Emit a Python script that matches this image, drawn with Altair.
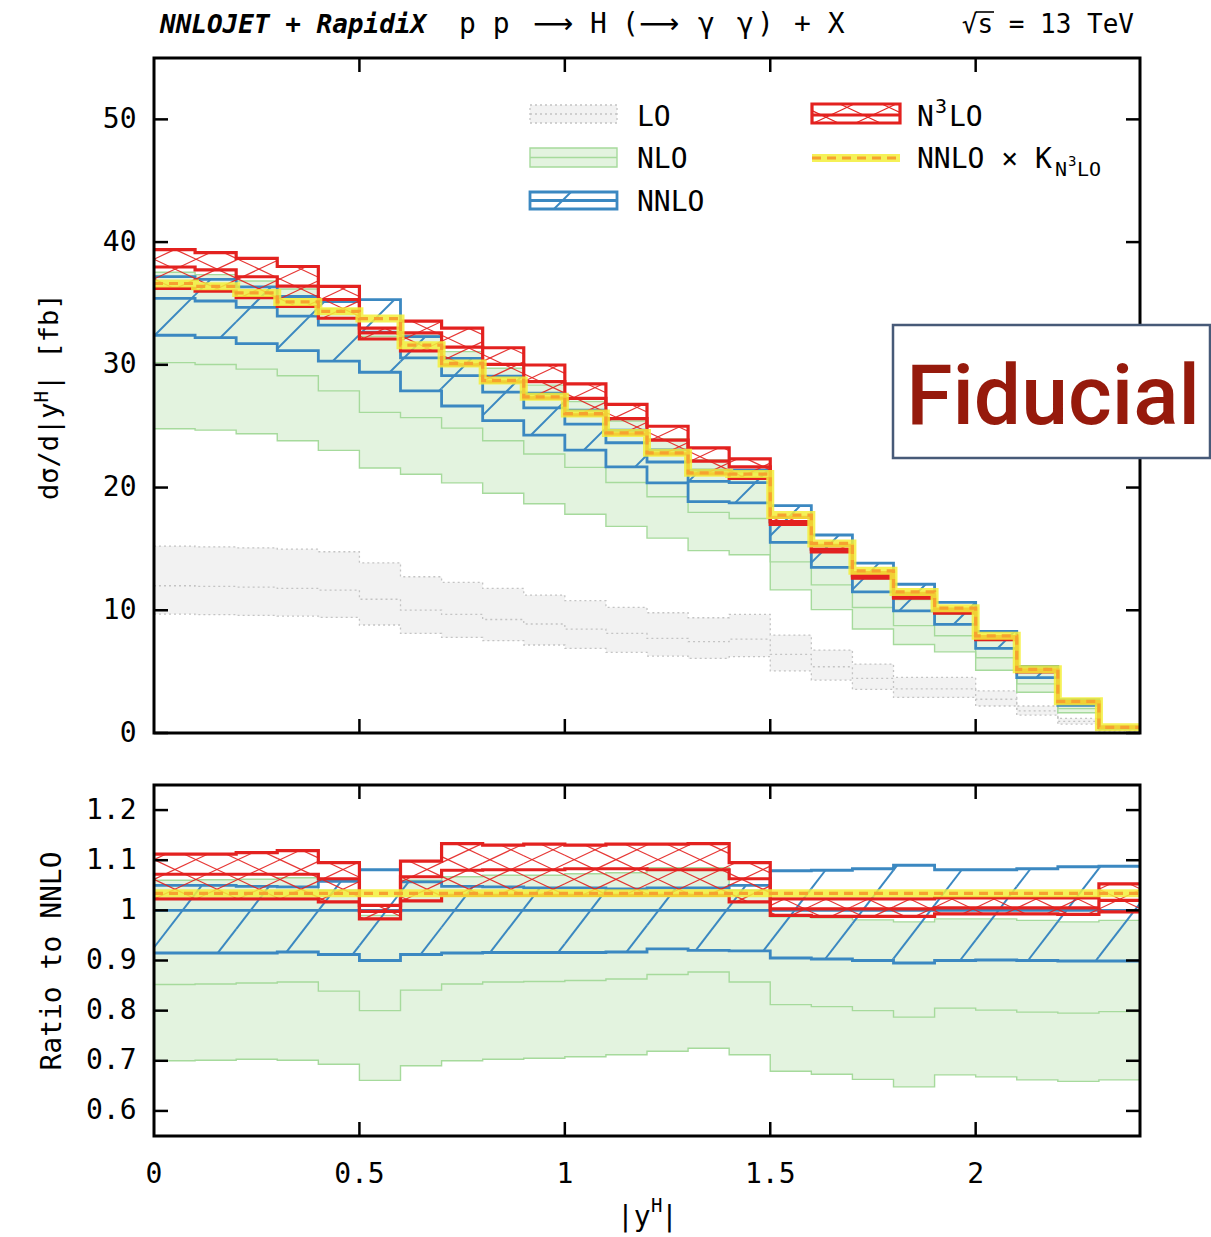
import altair as alt
import pandas as pd
import numpy as np

# ---------------- data ----------------
EDGES = [0.0, 0.1, 0.2, 0.3, 0.4, 0.5, 0.6, 0.7, 0.8, 0.9, 1.0, 1.1, 1.2,
         1.3, 1.4, 1.5, 1.6, 1.7, 1.8, 1.9, 2.0, 2.1, 2.2, 2.3, 2.4]

NNLO_C = [35.42, 35.20, 34.68, 33.97, 33.23, 32.66, 30.56, 29.12, 27.78, 26.49,
          25.17, 23.65, 22.08, 20.50, 20.40, 17.17, 14.94, 12.78, 11.12, 9.84,
          7.66, 5.02, 2.50, 0.45]
NNLO_LO_R = [0.915, 0.915, 0.915, 0.917, 0.912, 0.900, 0.912, 0.915, 0.916, 0.916,
             0.916, 0.917, 0.923, 0.920, 0.919, 0.905, 0.903, 0.900, 0.895, 0.900,
             0.901, 0.900, 0.899, 0.899]
NNLO_HI_R = [1.050, 1.050, 1.048, 1.047, 1.058, 1.081, 1.057, 1.048, 1.047, 1.045,
             1.045, 1.043, 1.045, 1.045, 1.050, 1.079, 1.080, 1.083, 1.090, 1.081,
             1.081, 1.083, 1.087, 1.088]
NLO_LO_R = [0.700, 0.701, 0.703, 0.701, 0.693, 0.661, 0.690, 0.700, 0.703, 0.705,
            0.708, 0.712, 0.719, 0.725, 0.712, 0.679, 0.673, 0.663, 0.648, 0.672,
            0.668, 0.662, 0.659, 0.662]
NLO_C_R = [0.852, 0.853, 0.855, 0.857, 0.839, 0.800, 0.841, 0.853, 0.857, 0.858,
           0.860, 0.863, 0.872, 0.877, 0.857, 0.812, 0.808, 0.800, 0.787, 0.805,
           0.801, 0.797, 0.795, 0.798]
NLO_HI_R = [1.060, 1.061, 1.062, 1.065, 1.040, 0.990, 1.060, 1.067, 1.070, 1.070,
            1.073, 1.075, 1.085, 1.085, 1.040, 0.987, 0.985, 0.981, 0.977, 0.983,
            0.983, 0.980, 0.977, 0.980]
N3LO_LO_R = [1.023, 1.023, 1.023, 1.023, 1.017, 0.983, 1.019, 1.030, 1.030, 1.030,
             1.030, 1.030, 1.030, 1.030, 1.017, 0.990, 0.988, 0.988, 0.988, 0.993,
             0.993, 0.993, 0.992, 0.997]
N3LO_C_R = [1.072, 1.072, 1.072, 1.072, 1.063, 0.998, 1.067, 1.080, 1.081, 1.081,
            1.083, 1.083, 1.081, 1.081, 1.063, 1.003, 1.003, 1.003, 1.003, 1.005,
            1.005, 1.005, 1.005, 1.020]
N3LO_HI_R = [1.112, 1.112, 1.115, 1.119, 1.095, 1.010, 1.098, 1.133, 1.130, 1.132,
             1.130, 1.132, 1.132, 1.133, 1.095, 1.023, 1.023, 1.023, 1.023, 1.025,
             1.025, 1.025, 1.025, 1.053]
K_N3LO = 1.034

LO_HI = [15.23, 15.17, 15.09, 14.98, 14.77, 13.87, 12.73, 12.27, 11.78, 11.24,
         10.78, 10.23, 9.80, 9.39, 9.66, 7.98, 6.76, 5.62, 4.53, 4.53,
         3.44, 2.20, 1.19, 0.30]
LO_C = [12.00, 11.94, 11.89, 11.78, 11.64, 10.90, 10.02, 9.66, 9.25, 8.88,
        8.47, 8.11, 7.71, 7.44, 7.65, 6.40, 5.40, 4.45, 3.60, 3.60,
        2.75, 1.80, 0.95, 0.22]
LO_LO = [9.69, 9.64, 9.58, 9.53, 9.42, 8.80, 8.11, 7.79, 7.52, 7.17,
         6.89, 6.57, 6.27, 6.08, 6.22, 5.07, 4.31, 3.55, 2.90, 2.90,
         2.20, 1.46, 0.73, 0.15]

X_TICKS = [0, 0.5, 1, 1.5, 2]
X_LABELS = ["0", "0.5", "1", "1.5", "2"]
Y_TICKS_TOP = [0, 10, 20, 30, 40, 50]
Y_TICKS_RAT = [0.6, 0.7, 0.8, 0.9, 1.0, 1.1, 1.2]

# ---------------- layout ----------------
W = 986
HT = 675            # top panel height
R0, R1 = 727, 1078  # ratio panel top / bottom (px in the view)
HALL = 1078
FONT = "DejaVu Sans Mono"

XS = alt.Scale(domain=[0, 2.4], nice=False, zero=False)
YT = alt.Scale(domain=[0, 55], range=[HT, 0], nice=False, zero=False)
YR = alt.Scale(domain=[0.55, 1.25], range=[R1, R0], nice=False, zero=False)
TOP = dict(scale=YT, d0=0.0, d1=55.0, h=HT)
RAT = dict(scale=YR, d0=0.55, d1=1.25, h=R1 - R0)

DUMMY = pd.DataFrame({"a": [0]})

C_LO_F, C_LO_L = "#f2f2f2", "#c4c4c4"
C_NLO_F, C_NLO_L = "#e3f3df", "#a6da9c"
C_NNLO = "#3b88c1"
C_N3LO = "#e3211f"
C_YEL, C_ORA = "#f3ee3a", "#f6a22f"


def mul(a, b):
    return [x * y for x, y in zip(a, b)]


def step_df(vals):
    return pd.DataFrame({"x": EDGES, "v": list(vals) + [vals[-1]]})


def line_layer(vals, panel, color, width, dash=None, opacity=1.0):
    kw = dict(interpolate="step-after", color=color, strokeWidth=width,
              opacity=opacity, clip=False, strokeJoin="miter")
    if dash is not None:
        kw["strokeDash"] = dash
    return alt.Chart(step_df(vals)).mark_line(**kw).encode(
        x=alt.X("x:Q", scale=XS, axis=None),
        y=alt.Y("v:Q", scale=panel["scale"], axis=None))


def area_layer(lo, hi, panel, color):
    df = pd.DataFrame({"x": EDGES, "lo": list(lo) + [lo[-1]],
                       "hi": list(hi) + [hi[-1]]})
    return alt.Chart(df).mark_area(interpolate="step-after", color=color,
                                   opacity=1).encode(
        x=alt.X("x:Q", scale=XS, axis=None),
        y=alt.Y("lo:Q", scale=panel["scale"], axis=None),
        y2="hi:Q")


def clip_lines(X0, X1, Y0, Y1, slope, period, phase):
    """segments of the line family Y = slope*(X - phase - k*period) inside a box"""
    out = []
    span = max(abs(Y0), abs(Y1)) / abs(slope)
    kmin = int(np.floor((X0 - phase - span) / period)) - 2
    kmax = int(np.ceil((X1 - phase + span) / period)) + 2
    for k in range(kmin, kmax + 1):
        b = phase + k * period
        xa, xb = b + Y0 / slope, b + Y1 / slope
        lo_x = max(X0, min(xa, xb))
        hi_x = min(X1, max(xa, xb))
        if hi_x - lo_x > 0.3:
            out.append((lo_x, slope * (lo_x - b), hi_x, slope * (hi_x - b)))
    return out


def hatch_df(lo, hi, panel, slope, period, phase):
    kx = W / 2.4
    ky = panel["h"] / (panel["d1"] - panel["d0"])
    d0 = panel["d0"]
    rows = []
    for i in range(len(lo)):
        X0, X1 = EDGES[i] * kx, EDGES[i + 1] * kx
        Y0, Y1 = (lo[i] - d0) * ky, (hi[i] - d0) * ky
        if Y1 <= Y0:
            continue
        for (xa, ya, xb, yb) in clip_lines(X0, X1, Y0, Y1, slope, period, phase):
            rows.append(dict(x=xa / kx, x2=xb / kx, y=d0 + ya / ky, y2=d0 + yb / ky))
    return pd.DataFrame(rows)


def hatch_layer(df, panel, color, width, opacity=1.0):
    return alt.Chart(df).mark_rule(color=color, strokeWidth=width,
                                   opacity=opacity, strokeCap="butt").encode(
        x=alt.X("x:Q", scale=XS, axis=None), x2="x2:Q",
        y=alt.Y("y:Q", scale=panel["scale"], axis=None), y2="y2:Q")


def px_rect(x0, x1, y0, y1, **mk):
    return alt.Chart(DUMMY).mark_rect(**mk).encode(
        x=alt.value(x0), x2=alt.value(x1), y=alt.value(y0), y2=alt.value(y1))


def px_rule(x0, x1, y0, y1, **mk):
    return alt.Chart(DUMMY).mark_rule(**mk).encode(
        x=alt.value(x0), x2=alt.value(x1), y=alt.value(y0), y2=alt.value(y1))


def px_text(txt, x, y, **mk):
    base = dict(font=FONT, fontSize=28, color="black", align="left",
                baseline="alphabetic")
    base.update(mk)
    return alt.Chart(DUMMY).mark_text(text=txt, **base).encode(
        x=alt.value(x), y=alt.value(y))


def px_hatch(x0, x1, y0, y1, slope, period, phase, color, width):
    # box in y-down px; pattern computed with y-up coordinates
    segs = clip_lines(x0, x1, -y1, -y0, slope, period, phase)
    df = pd.DataFrame([dict(x=a, y=-b, x2=c, y2=-d) for (a, b, c, d) in segs])
    return alt.Chart(df).mark_rule(color=color, strokeWidth=width,
                                   strokeCap="butt").encode(
        x=alt.X("x:Q", scale=None), x2="x2:Q",
        y=alt.Y("y:Q", scale=None), y2="y2:Q")


layers = []

# ---------------- series per panel ----------------
for panel in (TOP, RAT):
    top = panel is TOP
    cen = NNLO_C if top else [1.0] * len(NNLO_C)
    if top:
        layers.append(area_layer(LO_LO, LO_HI, panel, C_LO_F))
        for v in (LO_LO, LO_C, LO_HI):
            layers.append(line_layer(v, panel, C_LO_L, 1.3, dash=[2, 3]))
    nlo_lo, nlo_c, nlo_hi = mul(cen, NLO_LO_R), mul(cen, NLO_C_R), mul(cen, NLO_HI_R)
    layers.append(area_layer(nlo_lo, nlo_hi, panel, C_NLO_F))
    for v in (nlo_lo, nlo_c, nlo_hi):
        layers.append(line_layer(v, panel, C_NLO_L, 1.4))

    nn_lo, nn_hi = mul(cen, NNLO_LO_R), mul(cen, NNLO_HI_R)
    if top:
        hb = hatch_df(nn_lo, nn_hi, panel, 1.0, 68.0, -397.0)
    else:
        hb = hatch_df(nn_lo, nn_hi, panel, 1.3, 68.0, -77.0)
    layers.append(hatch_layer(hb, panel, C_NNLO, 2.0))
    for v in (nn_lo, cen, nn_hi):
        layers.append(line_layer(v, panel, C_NNLO, 2.8))

    n3_lo, n3_c, n3_hi = mul(cen, N3LO_LO_R), mul(cen, N3LO_C_R), mul(cen, N3LO_HI_R)
    hr = pd.concat([hatch_df(n3_lo, n3_hi, panel, 0.47, 42.0, 0.0),
                    hatch_df(n3_lo, n3_hi, panel, -0.47, 42.0, 0.0)])
    layers.append(hatch_layer(hr, panel, C_N3LO, 1.2, 0.9))
    for v in (n3_lo, n3_c, n3_hi):
        layers.append(line_layer(v, panel, C_N3LO, 3.2))

    kline = [K_N3LO * c for c in cen]
    layers.append(line_layer(kline, panel, C_YEL, 8, opacity=0.85))
    layers.append(line_layer(kline, panel, C_ORA, 3.2, dash=[9, 6]))

# ---------------- frames, inward ticks and axis labels ----------------
layers.append(px_rect(0, W, 0, HT, fill="white", fillOpacity=0, stroke="black", strokeWidth=3))
layers.append(px_rect(0, W, R0, R1, fill="white", fillOpacity=0, stroke="black", strokeWidth=3))

xt = pd.DataFrame({"t": X_TICKS[1:]})
for (ya, yb) in ((HT, HT - 14), (0, 14), (R0, R0 + 14), (R1, R1 - 14)):
    layers.append(alt.Chart(xt).mark_rule(color="black", strokeWidth=2.5).encode(
        x=alt.X("t:Q", scale=XS, axis=None), y=alt.value(ya), y2=alt.value(yb)))
xl = pd.DataFrame({"t": X_TICKS, "lab": X_LABELS})
layers.append(alt.Chart(xl).mark_text(font=FONT, fontSize=28, color="black",
                                      align="center", baseline="middle").encode(
    x=alt.X("t:Q", scale=XS, axis=None), y=alt.value(R1 + 39), text="lab:N"))

ytt = pd.DataFrame({"t": Y_TICKS_TOP})
ytr = pd.DataFrame({"t": Y_TICKS_RAT})
YT_AXIS = alt.Axis(values=Y_TICKS_TOP, ticks=False, tickSize=0, domain=False, grid=False,
                   labelFont=FONT, labelFontSize=28, labelColor="black",
                   labelPadding=18, title=None, orient="left")
YR_AXIS = alt.Axis(values=Y_TICKS_RAT, ticks=False, tickSize=0, domain=False, grid=False,
                   labelFont=FONT, labelFontSize=28, labelColor="black",
                   labelPadding=18, title=None, orient="left",
                   labelExpr="datum.value == 1 ? '1' : format(datum.value, '.1f')")
layers.append(alt.Chart(ytt).mark_rule(color="black", strokeWidth=2.5).encode(
    y=alt.Y("t:Q", scale=YT, axis=YT_AXIS), x=alt.value(0), x2=alt.value(14)))
layers.append(alt.Chart(ytt).mark_rule(color="black", strokeWidth=2.5).encode(
    y=alt.Y("t:Q", scale=YT, axis=None), x=alt.value(W - 14), x2=alt.value(W)))
layers.append(alt.Chart(ytr).mark_rule(color="black", strokeWidth=2.5).encode(
    y=alt.Y("t:Q", scale=YR, axis=YR_AXIS), x=alt.value(0), x2=alt.value(14)))
layers.append(alt.Chart(ytr).mark_rule(color="black", strokeWidth=2.5).encode(
    y=alt.Y("t:Q", scale=YR, axis=None), x=alt.value(W - 14), x2=alt.value(W)))

# ---------------- axis titles ----------------
# top y title, composed so the superscript H is readable (rotated, reading upward)
layers.append(px_text("dσ/d|y", -104, 442, angle=270, baseline="middle", fontSize=27))
layers.append(px_text("H", -112, 344.5, angle=270, baseline="middle", fontSize=19))
layers.append(px_text("| [fb]", -104, 333, angle=270, baseline="middle", fontSize=27))
layers.append(px_text("Ratio to NNLO", -101, 903, angle=270, align="center",
                      baseline="middle", fontSize=28))
layers.append(px_text("|y", 463, 1160, baseline="middle", fontSize=28))
layers.append(px_text("H", 497, 1148, baseline="middle", fontSize=19))
layers.append(px_text("|", 507, 1160, baseline="middle", fontSize=28))

# ---------------- header ----------------
layers.append(px_text("NNLOJET + RapidiX", 6, -25, fontSize=26, fontWeight="bold",
                      fontStyle="italic"))
for txt, xx in (("p p", 305), ("H", 436), ("(", 468), ("γ", 544), ("γ", 583),
                (")", 603), ("+ X", 640)):
    layers.append(px_text(txt, xx, -25, fontSize=28))
for xx in (379, 485):
    layers.append(px_text("⟶", xx, -25, font="DejaVu Sans", fontSize=28))
layers.append(px_text("√s = 13 TeV", 980, -25, fontSize=26, align="right"))
layers.append(px_rule(822, 840, -46, -46, color="black", strokeWidth=1.6))

# ---------------- legend ----------------
layers.append(px_rect(376, 463, 47, 65, fill=C_LO_F, stroke=C_LO_L, strokeWidth=1.3,
                      strokeDash=[2, 3]))
layers.append(px_rule(376, 463, 56, 56, color=C_LO_L, strokeWidth=1.3, strokeDash=[2, 3]))
layers.append(px_text("LO", 483, 68))

layers.append(px_rect(376, 463, 90, 109, fill=C_NLO_F, stroke=C_NLO_L, strokeWidth=1.4))
layers.append(px_rule(376, 463, 99.5, 99.5, color=C_NLO_L, strokeWidth=1.4))
layers.append(px_text("NLO", 483, 110))

layers.append(px_hatch(376, 463, 134, 151, 1.0, 68.0, 551.0, C_NNLO, 2.0))
layers.append(px_rect(376, 463, 134, 151, fill="white", fillOpacity=0, stroke=C_NNLO,
                      strokeWidth=2.8))
layers.append(px_rule(376, 463, 142.5, 142.5, color=C_NNLO, strokeWidth=2.8))
layers.append(px_text("NNLO", 483, 153))

layers.append(px_hatch(658, 746, 46, 65, 0.47, 42.0, 0.0, C_N3LO, 1.2))
layers.append(px_hatch(658, 746, 46, 65, -0.47, 42.0, 0.0, C_N3LO, 1.2))
layers.append(px_rect(658, 746, 46, 65, fill="white", fillOpacity=0, stroke=C_N3LO,
                      strokeWidth=3.2))
layers.append(px_rule(658, 746, 57, 57, color=C_N3LO, strokeWidth=3.2))
layers.append(px_text("N", 763, 68))
layers.append(px_text("3", 781, 55, fontSize=20))
layers.append(px_text("LO", 795, 68))

layers.append(px_rule(658, 746, 100, 100, color=C_YEL, strokeWidth=8, opacity=0.85))
layers.append(px_rule(658, 746, 100, 100, color=C_ORA, strokeWidth=3.2, strokeDash=[9, 6]))
layers.append(px_text("NNLO × K", 763, 110))
layers.append(px_text("N", 901, 118, fontSize=20))
layers.append(px_text("3", 914, 108, fontSize=14))
layers.append(px_text("LO", 923, 118, fontSize=20))

# ---------------- "Fiducial" box ----------------
layers.append(px_rect(739, 1056, 267, 400, fill="white", stroke="#475a78", strokeWidth=2.5))
layers.append(px_text("Fiducial", 899, 366, font="Roboto", fontSize=84, fontWeight=500,
                      color="#961a0c", align="center"))

chart = alt.layer(*layers).resolve_scale(y="independent").properties(
    width=W, height=HALL,
    padding={"left": 154, "top": 58, "right": 71, "bottom": 101},
    autosize=alt.AutoSizeParams(type="none"),
).configure_view(stroke=None)

chart.save("out.html", embed_options={"renderer": "svg", "actions": False})
